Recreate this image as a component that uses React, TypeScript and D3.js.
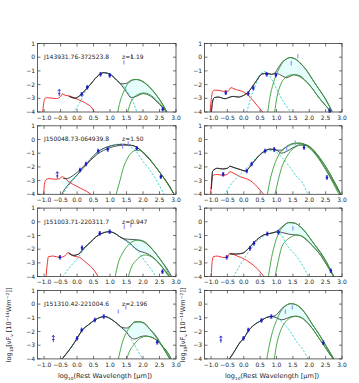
import React from "react";
import * as d3 from "d3";

type Pt = [number, number];

// panels are ordered row by row: 0 = top left, 1 = top right, 2 = 2nd row left ...
const sourceNames = ["J143931.76-372523.8", "J150048.73-064939.8", "J151003.71-220311.7", "J151310.42-221004.6"];
const redshifts = ["z=1.19", "z=1.50", "z=0.947", "z=2.196"];

const xTicks = [-1.0, -0.5, 0.0, 0.5, 1.0, 1.5, 2.0, 2.5, 3.0];
const yTicks = [1, 0, -1, -2, -3, -4];

// host galaxy (red)
const stellar: (Pt[] | null)[] = [
  [[-1.05, -4.3], [-1.02, -3.5], [-0.97, -3.0], [-0.9, -2.95], [-0.77, -2.99], [-0.62, -3.02], [-0.51, -2.9], [-0.44, -2.68], [-0.36, -2.78], [-0.21, -2.84], [-0.06, -3.0], [0.14, -3.2], [0.29, -3.4], [0.45, -3.7], [0.53, -4.05]],
  [[-1.04, -4.3], [-1.0, -3.2], [-0.95, -2.5], [-0.9, -2.4], [-0.78, -2.42], [-0.62, -2.49], [-0.47, -2.47], [-0.39, -2.22], [-0.3, -2.3], [-0.22, -2.37], [-0.01, -2.54], [0.19, -2.91], [0.4, -3.5], [0.6, -4.05]],
  [[-1.02, -4.3], [-0.99, -3.3], [-0.95, -2.95], [-0.85, -2.85], [-0.7, -2.9], [-0.55, -2.88], [-0.45, -2.72], [-0.38, -2.8], [-0.27, -3.05], [-0.1, -3.3], [0.1, -3.55], [0.3, -3.8], [0.45, -4.05]],
  [[-1.02, -4.3], [-0.98, -3.0], [-0.93, -2.6], [-0.8, -2.55], [-0.65, -2.62], [-0.5, -2.55], [-0.42, -2.35], [-0.3, -2.48], [-0.1, -2.72], [0.2, -3.0], [0.5, -3.7], [0.62, -4.05]],
  [[-0.95, -4.3], [-0.9, -3.0], [-0.87, -2.55], [-0.72, -2.5], [-0.52, -2.6], [-0.35, -2.45], [-0.28, -2.24], [-0.13, -2.48], [0.07, -2.6], [0.27, -2.97], [0.53, -3.58], [0.65, -4.05]],
  [[-1.0, -4.3], [-0.97, -3.0], [-0.93, -2.55], [-0.8, -2.5], [-0.65, -2.6], [-0.5, -2.6], [-0.43, -2.3], [-0.35, -2.35], [-0.2, -2.5], [0.0, -2.7], [0.2, -3.0], [0.4, -3.4], [0.55, -3.8], [0.63, -4.05]],
  null,
  null,
];

// AGN torus (cyan dashed)
const agnTorus: Pt[][] = [
  [[-0.12, -4.05], [0.09, -3.28], [0.24, -2.54], [0.4, -2.0], [0.6, -1.45], [0.8, -1.12], [1.0, -1.22], [1.2, -1.67], [1.41, -2.1], [1.56, -2.66], [1.71, -3.35], [1.82, -4.05]],
  [[0.09, -4.05], [0.19, -3.16], [0.34, -2.17], [0.5, -1.3], [0.6, -1.05], [0.7, -1.1], [0.85, -1.6], [1.06, -2.6], [1.21, -3.25], [1.45, -4.05]],
  [[-0.45, -4.05], [-0.3, -3.5], [-0.1, -2.9], [0.1, -2.3], [0.3, -1.75], [0.5, -1.2], [0.7, -0.8], [0.9, -0.55], [1.1, -0.4], [1.3, -0.33], [1.45, -0.35], [1.6, -0.5], [1.8, -0.9], [2.0, -1.6], [2.2, -2.2], [2.4, -2.95], [2.55, -3.6], [2.65, -4.05]],
  [[-0.6, -4.05], [-0.3, -3.0], [0.0, -2.3], [0.2, -1.8], [0.4, -1.3], [0.6, -0.95], [0.8, -0.8], [1.0, -0.95], [1.2, -1.4], [1.4, -2.0], [1.6, -2.65], [1.8, -3.2], [1.97, -4.05]],
  [[-0.45, -4.05], [-0.2, -3.25], [0.0, -2.7], [0.2, -2.05], [0.4, -1.5], [0.6, -1.05], [0.8, -0.8], [0.97, -0.73], [1.15, -0.85], [1.3, -1.1], [1.5, -1.45], [1.7, -1.85], [1.86, -2.2], [2.05, -2.85], [2.29, -3.62], [2.4, -4.05]],
  [[-0.32, -4.05], [-0.15, -3.3], [0.0, -2.75], [0.2, -2.0], [0.4, -1.45], [0.6, -1.05], [0.8, -0.85], [1.0, -0.78], [1.15, -0.95], [1.31, -1.7], [1.45, -2.1], [1.62, -2.55], [1.8, -3.2], [1.98, -4.05]],
  [[-0.5, -4.05], [-0.2, -3.23], [0.0, -2.5], [0.14, -1.95], [0.35, -1.5], [0.54, -1.16], [0.7, -0.97], [0.84, -0.91], [1.0, -1.05], [1.2, -1.4], [1.35, -1.7], [1.5, -2.05], [1.75, -3.03], [2.0, -4.05]],
  [[-0.45, -4.05], [-0.3, -3.5], [-0.1, -2.75], [0.0, -2.5], [0.14, -1.95], [0.3, -1.55], [0.54, -1.19], [0.7, -0.97], [0.84, -0.91], [1.0, -1.0], [1.2, -1.4], [1.42, -2.0], [1.6, -2.7], [1.77, -3.2], [1.98, -4.05]],
];

// cold dust greybodies (green), upper and lower fit
const dustHi: Pt[][] = [
  [[1.23, -4.05], [1.3, -3.28], [1.41, -2.54], [1.51, -2.04], [1.64, -1.72], [1.76, -1.62], [1.91, -1.67], [2.11, -1.97], [2.31, -2.47], [2.52, -3.16], [2.72, -4.05]],
  [[0.73, -4.05], [0.8, -2.91], [0.9, -1.92], [1.06, -0.93], [1.21, -0.31], [1.41, -0.03], [1.62, -0.19], [1.87, -0.81], [2.18, -1.92], [2.49, -3.03], [2.71, -4.05]],
  [[1.18, -4.05], [1.3, -3.0], [1.4, -2.1], [1.5, -1.5], [1.6, -1.1], [1.7, -0.87], [1.8, -0.78], [1.9, -0.8], [2.0, -0.92], [2.2, -1.4], [2.4, -2.05], [2.6, -2.72], [2.8, -3.45], [2.95, -4.05]],
  [[0.72, -4.05], [0.8, -3.0], [0.9, -2.1], [1.0, -1.45], [1.1, -1.0], [1.25, -0.6], [1.4, -0.37], [1.55, -0.27], [1.7, -0.28], [1.9, -0.45], [2.1, -0.85], [2.3, -1.45], [2.5, -2.2], [2.7, -3.05], [2.9, -3.95], [2.93, -4.05]],
  [[1.15, -4.05], [1.25, -3.0], [1.4, -2.2], [1.55, -1.7], [1.7, -1.42], [1.87, -1.33], [2.05, -1.45], [2.25, -1.9], [2.45, -2.5], [2.65, -3.2], [2.82, -3.95], [2.85, -4.05]],
  [[0.75, -4.05], [0.85, -2.6], [0.95, -1.6], [1.11, -0.64], [1.25, -0.25], [1.37, -0.06], [1.5, -0.06], [1.72, -0.34], [1.9, -0.8], [2.13, -1.56], [2.35, -2.3], [2.54, -3.0], [2.74, -3.97], [2.76, -4.05]],
  [[1.25, -4.05], [1.35, -3.0], [1.45, -2.3], [1.55, -1.85], [1.65, -1.52], [1.75, -1.32], [1.88, -1.28], [2.01, -1.38], [2.2, -1.82], [2.4, -2.43], [2.61, -3.18], [2.8, -3.95], [2.83, -4.05]],
  [[0.7, -4.05], [0.78, -3.0], [0.88, -2.0], [1.0, -1.2], [1.1, -0.65], [1.2, -0.3], [1.3, -0.08], [1.42, 0.04], [1.55, 0.0], [1.7, -0.22], [1.9, -0.75], [2.1, -1.5], [2.3, -2.2], [2.5, -3.0], [2.7, -3.8], [2.76, -4.05]],
];
const dustLo: (Pt[] | null)[] = [
  [[1.53, -4.05], [1.63, -3.28], [1.76, -2.86], [1.91, -2.66], [2.03, -2.61], [2.21, -2.74], [2.42, -3.16], [2.62, -3.7], [2.72, -4.05]],
  [[0.94, -4.05], [1.01, -2.95], [1.11, -2.1], [1.26, -1.5], [1.4, -1.32], [1.5, -1.28], [1.67, -1.38], [1.98, -1.95], [2.28, -2.9], [2.59, -3.78], [2.7, -4.05]],
  null,
  [[0.95, -4.05], [1.05, -3.0], [1.15, -2.1], [1.3, -1.3], [1.45, -0.8], [1.6, -0.52], [1.75, -0.4], [1.9, -0.42], [2.1, -0.72], [2.3, -1.27], [2.5, -1.97], [2.7, -2.8], [2.9, -3.7], [2.97, -4.05]],
  [[1.55, -4.05], [1.65, -3.3], [1.8, -2.8], [1.95, -2.5], [2.07, -2.42], [2.25, -2.55], [2.45, -2.95], [2.65, -3.55], [2.8, -4.05]],
  [[0.95, -4.05], [1.05, -2.9], [1.15, -1.9], [1.31, -1.34], [1.45, -1.1], [1.62, -0.97], [1.75, -1.02], [1.95, -1.35], [2.13, -1.83], [2.35, -2.45], [2.54, -3.17], [2.75, -3.97], [2.8, -4.05]],
  [[1.5, -4.05], [1.6, -3.4], [1.71, -3.0], [1.91, -2.5], [2.11, -2.35], [2.25, -2.4], [2.41, -2.62], [2.6, -3.1], [2.75, -3.6], [2.86, -4.05]],
  [[0.93, -4.05], [1.0, -3.0], [1.1, -2.1], [1.2, -1.55], [1.35, -1.12], [1.5, -0.93], [1.6, -0.9], [1.75, -0.98], [1.9, -1.25], [2.1, -1.8], [2.3, -2.5], [2.5, -3.2], [2.7, -3.9], [2.75, -4.05]],
];

// total model, upper and lower fit (black), shared wavelengths
const totalX: number[][] = [
  [-0.25, -0.06, 0.09, 0.24, 0.4, 0.6, 0.8, 1.0, 1.2, 1.35, 1.5, 1.65, 1.8, 2.0, 2.2, 2.4, 2.6, 2.75],
  [-1.0, -0.95, -0.9, -0.78, -0.57, -0.42, -0.32, -0.17, -0.01, 0.14, 0.24, 0.4, 0.55, 0.7, 0.85, 0.95, 1.05, 1.2, 1.31, 1.41, 1.55, 1.7, 1.9, 2.1, 2.3, 2.5, 2.7],
  [-0.47, -0.42, -0.3, -0.2, 0.0, 0.2, 0.4, 0.6, 0.8, 1.0, 1.2, 1.4, 1.6, 1.8, 2.0, 2.2, 2.4, 2.6, 2.8, 2.95],
  [-0.99, -0.95, -0.8, -0.65, -0.5, -0.42, -0.3, -0.1, 0.05, 0.2, 0.4, 0.6, 0.8, 1.0, 1.15, 1.3, 1.5, 1.7, 1.9, 2.1, 2.3, 2.5, 2.7, 2.9, 2.97],
  [-0.25, -0.1, 0.05, 0.2, 0.4, 0.6, 0.8, 0.97, 1.15, 1.3, 1.45, 1.6, 1.75, 1.9, 2.05, 2.2, 2.4, 2.6, 2.8, 2.88],
  [-0.42, -0.22, -0.02, 0.1, 0.24, 0.4, 0.6, 0.8, 0.95, 1.06, 1.2, 1.37, 1.55, 1.72, 1.9, 2.13, 2.35, 2.54, 2.74, 2.8],
  [-0.47, -0.2, 0.0, 0.14, 0.35, 0.54, 0.7, 0.84, 1.0, 1.2, 1.35, 1.5, 1.6, 1.75, 1.9, 2.05, 2.2, 2.4, 2.6, 2.8, 2.86],
  [-0.45, -0.3, -0.1, 0.0, 0.14, 0.3, 0.54, 0.7, 0.84, 0.95, 1.05, 1.16, 1.3, 1.45, 1.6, 1.75, 1.9, 2.1, 2.3, 2.5, 2.7, 2.8],
];
const totalHi: (number | null)[][] = [
  [-2.85, -2.99, -2.79, -2.42, -2.0, -1.43, -1.13, -1.25, -1.67, -1.95, -1.9, -1.68, -1.63, -1.8, -2.2, -2.75, -3.45, -4.1],
  [-4.3, -3.2, -2.95, -2.91, -3.03, -2.91, -2.86, -2.91, -2.79, -2.54, -2.22, -1.67, -1.23, -1.18, -1.25, -1.15, -0.78, -0.3, -0.13, -0.02, -0.1, -0.39, -0.9, -1.63, -2.35, -3.07, -3.95],
  [null, -2.85, -2.85, -2.75, -2.4, -1.95, -1.45, -0.95, -0.65, -0.48, -0.38, -0.35, -0.4, -0.55, -0.95, -1.45, -2.05, -2.7, -3.4, -4.05],
  [-3.6, -2.3, -2.1, -2.15, -2.1, -1.95, -2.05, -2.2, -2.3, -1.95, -1.35, -0.9, -0.7, -0.78, -0.78, -0.55, -0.32, -0.26, -0.4, -0.78, -1.4, -2.15, -2.95, -3.8, -4.05],
  [-2.3, -2.45, -2.35, -1.95, -1.5, -1.05, -0.8, -0.72, -0.85, -1.1, -1.25, -1.28, -1.3, -1.35, -1.5, -1.8, -2.35, -3.0, -3.7, -4.05],
  [-2.35, -2.35, -2.28, -2.05, -1.7, -1.3, -0.97, -0.85, -0.75, -0.6, -0.3, -0.06, -0.1, -0.34, -0.8, -1.56, -2.25, -3.0, -3.97, -4.25],
  [-4.05, -3.23, -2.5, -1.95, -1.5, -1.16, -0.97, -0.91, -1.05, -1.4, -1.68, -1.75, -1.62, -1.3, -1.3, -1.4, -1.8, -2.35, -3.15, -3.95, -4.2],
  [-4.05, -3.5, -2.75, -2.5, -1.95, -1.55, -1.19, -0.97, -0.91, -0.85, -0.65, -0.33, -0.08, 0.03, -0.05, -0.3, -0.75, -1.5, -2.2, -3.0, -3.8, -4.2],
];
const totalLo: (number | null)[][] = [
  [-2.85, -2.99, -2.79, -2.42, -2.0, -1.43, -1.13, -1.25, -1.67, -2.05, -2.55, -2.95, -2.85, -2.66, -2.8, -3.2, -3.7, -4.1],
  [-4.3, -3.2, -2.95, -2.91, -3.03, -2.91, -2.86, -2.91, -2.79, -2.54, -2.22, -1.67, -1.23, -1.18, -1.25, -1.2, -1.22, -1.4, -1.5, -1.4, -1.28, -1.35, -1.76, -2.31, -2.97, -3.53, -4.1],
  [-4.05, -3.8, -3.4, -3.1, -2.6, -2.05, -1.55, -1.1, -0.8, -0.6, -0.47, -0.42, -0.42, -0.55, -0.95, -1.45, -2.05, -2.7, -3.4, -4.05],
  [-3.6, -2.3, -2.1, -2.15, -2.1, -1.95, -2.05, -2.2, -2.3, -1.95, -1.35, -0.9, -0.7, -0.78, -1.0, -0.88, -0.6, -0.4, -0.4, -0.7, -1.27, -1.97, -2.8, -3.7, -4.05],
  [-2.3, -2.45, -2.35, -1.95, -1.5, -1.05, -0.8, -0.72, -0.85, -1.1, -1.3, -1.55, -1.9, -2.15, -2.25, -2.42, -2.8, -3.35, -4.0, -4.3],
  [-2.35, -2.35, -2.28, -2.05, -1.7, -1.3, -0.97, -0.85, -0.77, -0.73, -0.8, -0.9, -0.95, -1.0, -1.3, -1.83, -2.45, -3.17, -3.95, -4.25],
  [-4.05, -3.23, -2.5, -1.95, -1.5, -1.16, -0.97, -0.91, -1.05, -1.4, -1.72, -2.05, -2.37, -2.55, -2.4, -2.32, -2.38, -2.6, -3.1, -3.75, -4.05],
  [-4.05, -3.5, -2.75, -2.5, -1.95, -1.55, -1.19, -0.97, -0.91, -0.95, -1.05, -1.15, -1.05, -0.92, -0.88, -0.98, -1.25, -1.8, -2.5, -3.2, -3.9, -4.2],
];

// photometry: detections (dark blue), upper limits (light blue), lower limits (arrows)
const detections: Pt[][] = [
  [[0.14, -2.71], [0.31, -2.2], [0.71, -1.25], [0.99, -1.33], [2.6, -3.8]],
  [[-0.55, -2.59], [0.14, -2.65], [0.29, -2.25], [0.7, -1.25], [0.98, -1.3], [2.62, -3.9]],
  [[0.09, -2.23], [0.27, -1.79], [0.64, -0.84], [0.93, -0.72], [1.81, -0.64], [2.54, -2.71]],
  [[-0.63, -2.54], [0.09, -2.3], [0.24, -1.79], [0.65, -0.84], [0.93, -0.72], [1.84, -0.58], [2.54, -2.77]],
  [[-0.52, -2.59], [0.15, -1.89], [0.69, -0.84], [0.99, -0.72], [2.59, -3.64]],
  [[-0.52, -2.59], [0.19, -1.93], [0.31, -1.57], [0.72, -0.88], [1.06, -0.77], [2.66, -3.57]],
  [[0.0, -2.5], [0.14, -1.89], [0.54, -1.16], [0.81, -0.91], [2.43, -2.79]],
  [[-0.01, -2.5], [0.14, -1.89], [0.54, -1.19], [0.84, -0.91], [2.43, -2.82]],
];
const upperLimits: Pt[][] = [
  [[1.42, -0.38], [1.65, 0.04]],
  [[1.45, -0.44], [1.65, 0.06]],
  [[1.38, -0.52], [1.55, -0.28]],
  [[1.31, -0.65], [1.57, -0.24]],
  [[1.43, -0.36], [1.63, -0.24]],
  [[1.5, -0.48], [1.7, -0.24]],
  [[1.25, -0.55], [1.48, -0.24]],
  [[1.27, -0.55], [1.48, -0.24]],
];
const lowerLimits: Pt[][] = [
  [[-0.54, -2.62]], [], [[-0.6, -2.62]], [], [], [], [[-0.72, -2.55]], [[-0.7, -2.6]],
];

const colX = [37.5, 204.5];
const colW = [138.5, 137.5];
const PH = 68.5;
const FONT = "DejaVu Sans, sans-serif";
const fmtX = (v: number) => v.toFixed(1).replace("-", "\u2212");
const fmtY = (v: number) => String(v).replace("-", "\u2212");

function Panel({ i }: { i: number }) {
  const row = Math.floor(i / 2);
  const col = i % 2;
  const x0 = colX[col];
  const w = colW[col];
  const top = 43.5 + row * 82.3;
  const x = d3.scaleLinear().domain([-1.2, 3.0]).range([x0, x0 + w]);
  const y = d3.scaleLinear().domain([-4, 1]).range([top + PH, top]);
  const line = d3.line<Pt>().x((d) => x(d[0])).y((d) => y(d[1])).curve(d3.curveMonotoneX);

  const tx = totalX[i], hi = totalHi[i], lo = totalLo[i];
  const idx = d3.range(tx.length);
  const area = d3
    .area<number>()
    .defined((k) => hi[k] != null && lo[k] != null)
    .x((k) => x(tx[k]))
    .y0((k) => y(lo[k] as number))
    .y1((k) => y(hi[k] as number))
    .curve(d3.curveMonotoneX);
  const sLine = (arr: (number | null)[]) =>
    d3
      .line<number>()
      .defined((k) => arr[k] != null)
      .x((k) => x(tx[k]))
      .y((k) => y(arr[k] as number))
      .curve(d3.curveMonotoneX)(idx) || "";

  const clipId = `clip${i}`;
  const red = stellar[i];
  const glo = dustLo[i];

  return (
    <g>
      <defs>
        <clipPath id={clipId}>
          <rect x={x0} y={top} width={w} height={PH} />
        </clipPath>
      </defs>
      <rect x={x0} y={top} width={w} height={PH} fill="#fff" />
      <g clipPath={`url(#${clipId})`} fill="none">
        <path d={area(idx) || ""} fill="#e6fdfd" stroke="none" />
        {red && <path d={line(red) || ""} stroke="#f21c1c" strokeWidth={0.9} />}
        <path d={line(agnTorus[i]) || ""} stroke="#2ecfcf" strokeWidth={0.9} strokeDasharray="2.2,1.6" />
        <path d={sLine(hi)} stroke="#2a2a2a" strokeWidth={0.8} />
        <path d={sLine(lo)} stroke="#2a2a2a" strokeWidth={0.8} />
        <path d={line(dustHi[i]) || ""} stroke="#35a035" strokeWidth={0.9} />
        {glo && <path d={line(glo) || ""} stroke="#35a035" strokeWidth={0.9} />}
      </g>

      {detections[i].map((p, k) => (
        <g key={`d${k}`} stroke="#1818c8" strokeWidth={0.7}>
          <line x1={x(p[0])} x2={x(p[0])} y1={y(p[1] - 0.13)} y2={y(p[1] + 0.13)} />
          <line x1={x(p[0]) - 1} x2={x(p[0]) + 1} y1={y(p[1] - 0.13)} y2={y(p[1] - 0.13)} />
          <line x1={x(p[0]) - 1} x2={x(p[0]) + 1} y1={y(p[1] + 0.13)} y2={y(p[1] + 0.13)} />
          <circle cx={x(p[0])} cy={y(p[1])} r={1.3} fill="#1818c8" stroke="none" />
        </g>
      ))}
      {upperLimits[i].map((p, k) => (
        <line key={`u${k}`} x1={x(p[0])} x2={x(p[0])} y1={y(p[1]) - 2.2} y2={y(p[1]) + 2.2} stroke="#8a8aff" strokeWidth={1.1} />
      ))}
      {lowerLimits[i].map((p, k) => {
        const cx = x(p[0]);
        const cy = y(p[1]);
        return (
          <g key={`l${k}`} stroke="#1818c8" strokeWidth={0.8} fill="none">
            <line x1={cx} x2={cx} y1={cy + 3} y2={cy - 3.5} />
            <path d={`M${cx - 1.4},${cy - 2} L${cx},${cy - 3.8} L${cx + 1.4},${cy - 2}`} />
            <line x1={cx - 1.2} x2={cx + 1.2} y1={cy + 0.5} y2={cy + 0.5} />
          </g>
        );
      })}

      <rect x={x0} y={top} width={w} height={PH} fill="none" stroke="#3a3a3a" strokeWidth={0.8} />
      <g stroke="#3a3a3a" strokeWidth={0.7}>
        {xTicks.map((t) => (
          <g key={`xt${t}`}>
            <line x1={x(t)} x2={x(t)} y1={top + PH} y2={top + PH - 3} />
            <line x1={x(t)} x2={x(t)} y1={top} y2={top + 3} />
          </g>
        ))}
        {yTicks.map((t) => (
          <g key={`yt${t}`}>
            <line x1={x0} x2={x0 + 3} y1={y(t)} y2={y(t)} />
            <line x1={x0 + w} x2={x0 + w - 3} y1={y(t)} y2={y(t)} />
          </g>
        ))}
      </g>
      <g fontFamily={FONT} fontSize={6} fill="#222">
        {xTicks.map((t) => (
          <text key={`xl${t}`} x={x(t)} y={top + PH + 7.6} textAnchor="middle">
            {fmtX(t)}
          </text>
        ))}
        {yTicks.map((t) => (
          <text key={`yl${t}`} x={x0 - 2.5} y={y(t) + 2.1} textAnchor="end">
            {fmtY(t)}
          </text>
        ))}
        {col === 0 && (
          <>
            <text x={x0 + 6.5} y={top + 15.6}>{sourceNames[row]}</text>
            <text x={x0 + 84.5} y={top + 15.6}>{redshifts[row]}</text>
          </>
        )}
      </g>
    </g>
  );
}

function YLabel({ cx, cy }: { cx: number; cy: number }) {
  return (
    <text transform={`translate(${cx},${cy}) rotate(-90)`} textAnchor="middle" fontFamily={FONT} fontSize={6.6} fill="#222">
      log<tspan fontSize={4.3} dy={1.6}>10</tspan>
      <tspan dy={-1.6}>[</tspan>νF<tspan fontSize={4.3} dy={1.6}>ν</tspan>
      <tspan dy={-1.6}> [10</tspan>
      <tspan fontSize={4.3} dy={-2.4}>−14</tspan>
      <tspan dy={2.4}>Wm</tspan>
      <tspan fontSize={4.3} dy={-2.4}>−2</tspan>
      <tspan dy={2.4}>]]</tspan>
    </text>
  );
}

function XLabel({ cx }: { cx: number }) {
  return (
    <text x={cx} y={378} textAnchor="middle" fontFamily={FONT} fontSize={6.6} fill="#222">
      log<tspan fontSize={4.3} dy={1.6}>10</tspan>
      <tspan dy={-1.6}>(Rest Wavelength [μm])</tspan>
    </text>
  );
}

export default function App() {
  return (
    <svg width={359} height={383} style={{ position: "absolute", left: 0, top: 0, background: "#fff" }}>
      <rect width={359} height={383} fill="#fff" />
      {d3.range(8).map((i) => (
        <Panel key={i} i={i} />
      ))}
      <YLabel cx={11} cy={325} />
      <YLabel cx={185} cy={325} />
      <XLabel cx={105} />
      <XLabel cx={272} />
    </svg>
  );
}
